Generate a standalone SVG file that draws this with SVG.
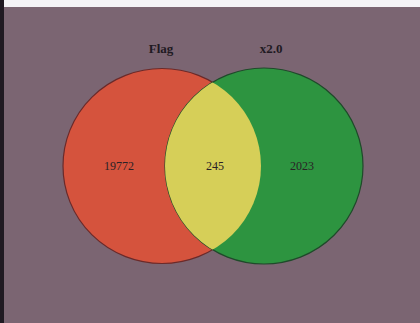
<svg xmlns="http://www.w3.org/2000/svg" width="420" height="323" viewBox="0 0 420 323">
<defs>
<style>
.lbl{font-family:"Liberation Serif","DejaVu Serif",serif;font-size:13px;font-weight:bold;fill:#1f1a22;text-anchor:middle}
.num{font-family:"Liberation Serif","DejaVu Serif",serif;font-size:12px;fill:#2a2226;text-anchor:middle}
.ring{stroke:#6a2a2a;stroke-width:1.2}
</style>
<clipPath id="clipL"><ellipse cx="162" cy="166" rx="99" ry="97.5"/></clipPath>
</defs>
<rect x="0" y="0" width="420" height="323" fill="#7b6572"/>
<rect x="0" y="0" width="420" height="7" fill="#f4f3f6"/>
<rect x="0" y="0" width="4" height="323" fill="#201a22"/>
<g id="set-flag">
<ellipse class="ring" cx="162" cy="166" rx="99" ry="97.5" fill="#d5533d"/>
</g>
<g id="set-x20">
<ellipse cx="264" cy="166" rx="99" ry="98" fill="#2d9440" stroke="#1f4a2a" stroke-width="1.2"/>
</g>
<g id="overlap">
<ellipse cx="264" cy="166" rx="99" ry="98" fill="#d6cf58" clip-path="url(#clipL)"/>
</g>
<g id="labels">
<text class="lbl" x="161" y="53">Flag</text>
<text class="lbl" x="271" y="53">x2.0</text>
<text class="num" x="119" y="170">19772</text>
<text class="num" x="215" y="170">245</text>
<text class="num" x="302" y="170">2023</text>
</g>
</svg>
